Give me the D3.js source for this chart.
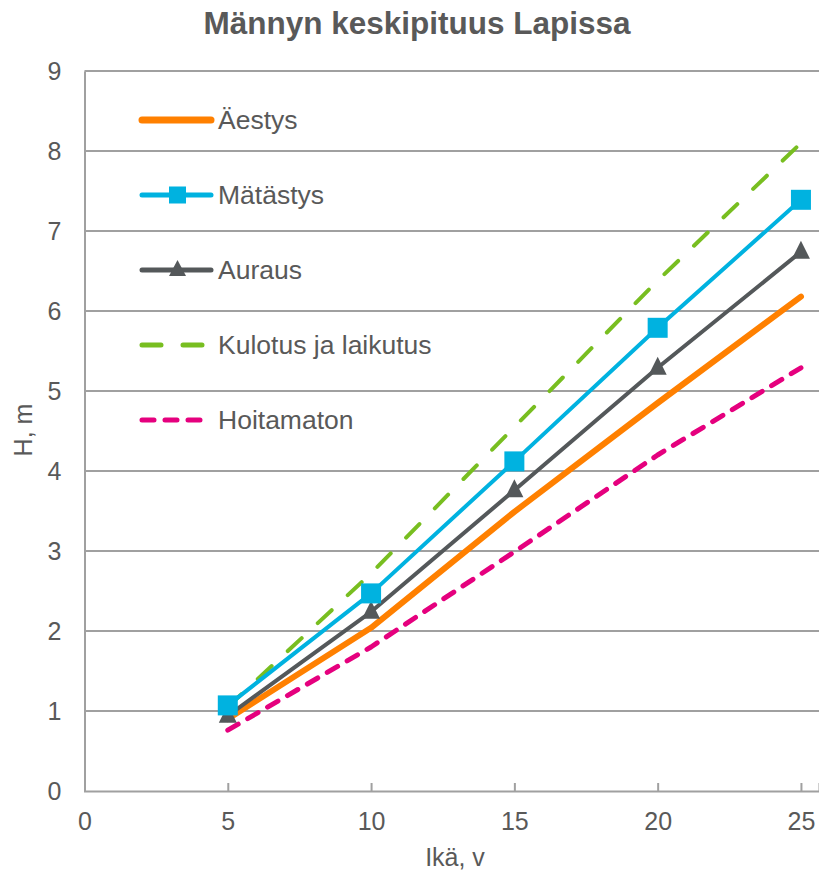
<!DOCTYPE html>
<html><head><meta charset="utf-8">
<script src="https://cdn.jsdelivr.net/npm/d3@7"></script>
<style>body{margin:0;background:#fff;} text{font-family:"Liberation Sans",Arial,sans-serif;fill:#595959;}</style>
</head><body>
<svg id="c" width="819" height="873"></svg>
<script>
const ages = [5, 10, 15, 20, 25];
const aestys = [0.9, 2.04, 3.49, 4.85, 6.18];
const matastys = [1.07, 2.47, 4.12, 5.79, 7.39];
const auraus = [0.94, 2.24, 3.76, 5.29, 6.74];
const kulotus = [1.05, 2.72, 4.55, 6.38, 8.1];
const hoitamaton = [0.76, 1.8, 2.99, 4.2, 5.29];
const seriesNames = ["Äestys", "Mätästys", "Auraus", "Kulotus ja laikutus", "Hoitamaton"];
const xTicks = [0, 5, 10, 15, 20, 25];
const yTicks = [0, 1, 2, 3, 4, 5, 6, 7, 8, 9];

const series = [
  {name: seriesNames[0], values: aestys, color: "#FF8000", width: 6, dash: null, marker: null, lw: 7},
  {name: seriesNames[1], values: matastys, color: "#00B2E0", width: 4, dash: null, marker: "square", lw: 5},
  {name: seriesNames[2], values: auraus, color: "#54585A", width: 4, dash: null, marker: "triangle", lw: 5},
  {name: seriesNames[3], values: kulotus, color: "#78BE20", width: 4, dash: "19,22", marker: null, lw: 5},
  {name: seriesNames[4], values: hoitamaton, color: "#E5007E", width: 5, dash: "12,11", marker: null, lw: 5}
];

const svg = d3.select("#c");
const x = d3.scaleLinear().domain([0, 25.63]).range([84.5, 819]);
const y = d3.scaleLinear().domain([0, 9]).range([791, 71]);

svg.append("text").attr("x", 417).attr("y", 34).attr("text-anchor", "middle")
  .style("font-size", "31.5px").style("font-weight", "bold").text("Männyn keskipituus Lapissa");

// gridlines
svg.append("g").selectAll("line").data(yTicks.filter(d => d > 0)).join("line")
  .attr("x1", x(0)).attr("x2", 819).attr("y1", d => y(d)).attr("y2", d => y(d))
  .attr("stroke", "#A0A0A0").attr("stroke-width", 2);

// y axis
const ya = svg.append("g").attr("transform", `translate(${x(0)},0)`)
  .call(d3.axisLeft(y).tickValues(yTicks).tickSize(0).tickPadding(23));
ya.select(".domain").attr("stroke", "#A0A0A0").attr("stroke-width", 2);
ya.selectAll("text").style("font-size", "25px").attr("fill", "#595959");

// x axis
const xa = svg.append("g").attr("transform", `translate(0,${y(0)})`)
  .call(d3.axisBottom(x).tickValues(xTicks).tickSize(-8).tickPadding(21));
xa.select(".domain").attr("stroke", "#A0A0A0").attr("stroke-width", 2);
xa.selectAll(".tick line").attr("stroke", "#A0A0A0").attr("stroke-width", 2);
xa.selectAll(".tick").filter(d => d === 0).select("line").remove();
xa.selectAll("text").style("font-size", "25px").attr("fill", "#595959");

svg.append("text").attr("x", 455).attr("y", 866).attr("text-anchor", "middle")
  .style("font-size", "25px").text("Ikä, v");
svg.append("text").attr("transform", "translate(32,430) rotate(-90)").attr("text-anchor", "middle")
  .style("font-size", "25px").text("H, m");

const line = d3.line().x((d, i) => x(ages[i])).y(d => y(d));
const order = [4, 0, 3, 2, 1];
order.forEach(k => {
  const s = series[k];
  svg.append("path").datum(s.values).attr("d", line).attr("fill", "none")
    .attr("stroke", s.color).attr("stroke-width", s.width)
    .attr("stroke-linecap", "round").attr("stroke-linejoin", "round")
    .attr("stroke-dasharray", s.dash);
  const g = svg.append("g");
  if (s.marker === "square") {
    g.selectAll("rect").data(s.values).join("rect")
      .attr("x", (d, i) => x(ages[i]) - 10).attr("y", d => y(d) - 10)
      .attr("width", 20).attr("height", 20).attr("fill", s.color);
  } else if (s.marker === "triangle") {
    g.selectAll("path").data(s.values).join("path")
      .attr("d", (d, i) => { const cx = x(ages[i]), cy = y(d); return `M${cx},${cy-11}L${cx+9},${cy+7}L${cx-9},${cy+7}Z`; })
      .attr("fill", s.color);
  }
});

// legend
const lg = svg.append("g");
series.forEach((s, i) => {
  const ly = 120 + i * 75;
  lg.append("line").attr("x1", 142).attr("x2", 211).attr("y1", ly).attr("y2", ly)
    .attr("stroke", s.color).attr("stroke-width", s.lw).attr("stroke-linecap", "round")
    .attr("stroke-dasharray", s.dash);
  if (s.marker === "square") {
    lg.append("rect").attr("x", 169).attr("y", ly - 8.5).attr("width", 17).attr("height", 17).attr("fill", s.color);
  } else if (s.marker === "triangle") {
    lg.append("path").attr("d", `M177.5,${ly-10}L186,${ly+6}L169,${ly+6}Z`).attr("fill", s.color);
  }
  lg.append("text").attr("x", 218).attr("y", ly + 9).style("font-size", "26.5px").text(s.name);
});
</script>
</body></html>
